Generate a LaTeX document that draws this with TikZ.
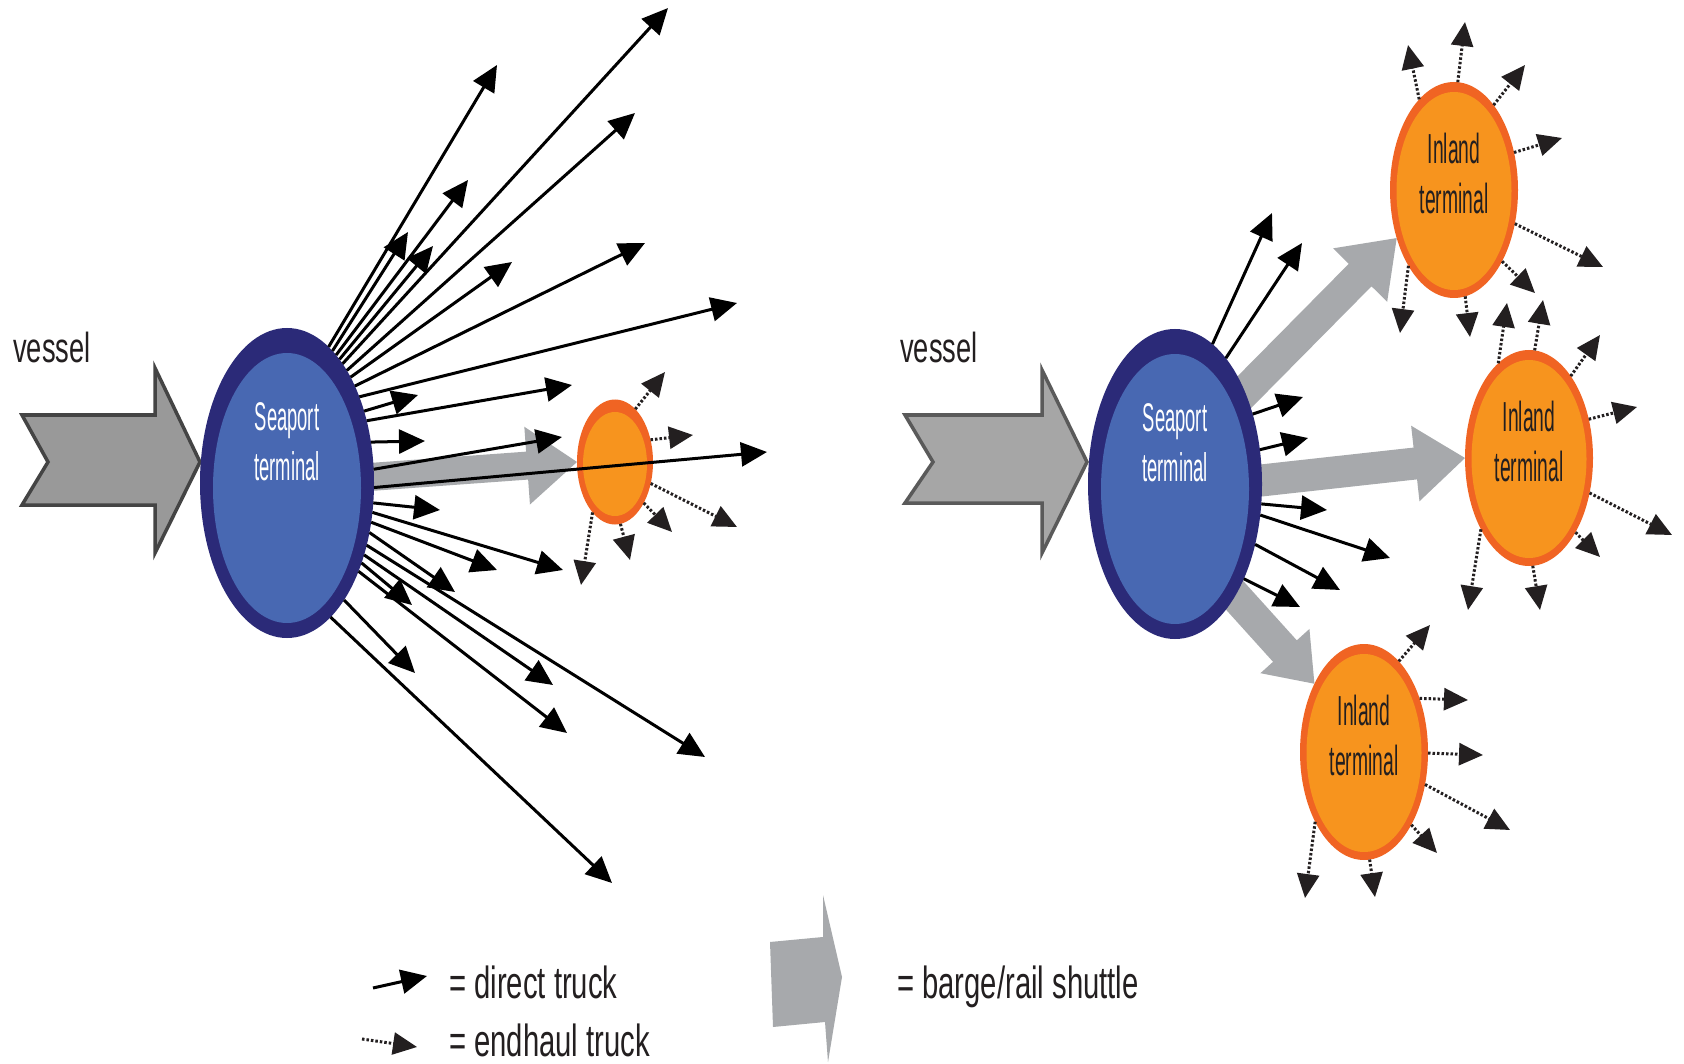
\documentclass[tikz,border=0pt]{standalone}
\usepackage{fontspec}
\setmainfont{Liberation Sans}
\newfontfamily\condA{Liberation Sans}[FakeStretch=0.65]
\newfontfamily\condB{Liberation Sans}[FakeStretch=0.46]
\usetikzlibrary{shapes.geometric,arrows.meta,calc}
\pgfdeclarelayer{bg}
\pgfsetlayers{bg,main}
\definecolor{navy}{HTML}{2B2A78}
\definecolor{seablue}{HTML}{4868B2}
\definecolor{orangeB}{HTML}{F06423}
\definecolor{orangeF}{HTML}{F7941E}
\definecolor{shuttle}{HTML}{A7A9AC}
\definecolor{txt}{HTML}{231F20}
\definecolor{vfillL}{HTML}{999999}
\definecolor{vfillR}{HTML}{A6A6A6}
\definecolor{vdrawL}{HTML}{444444}
\definecolor{vdrawR}{HTML}{5A5A5A}
\newcommand\shuttlearrow[5]{%
  \coordinate (shH) at ($(#2)!#5!(#1)$);
  \fill[shuttle] ($(#1)!#3!90:(#2)$) -- ($(shH)!#3!90:(#2)$) -- ($(shH)!#4!90:(#2)$) -- (#2)
    -- ($(shH)!#4!-90:(#2)$) -- ($(shH)!#3!-90:(#2)$) -- ($(#1)!#3!-90:(#2)$) -- cycle;}
\begin{document}
\begin{tikzpicture}[x=1pt,y=-1pt,
  seaport/.style={ellipse, fill=navy, minimum width=174pt, minimum height=310pt, inner sep=0pt, outer sep=0pt,
    path picture={\fill[seablue] ([yshift=-5pt]path picture bounding box.center) ellipse [x radius=74pt, y radius=135pt];}},
  inland/.style={ellipse, fill=orangeB, minimum width=128pt, minimum height=216pt, inner sep=0pt, outer sep=0pt,
    path picture={\fill[orangeF] ([yshift=-1pt]path picture bounding box.center) ellipse [x radius=57.5pt, y radius=99pt];}},
  hub/.style={ellipse, fill=orangeB, minimum width=76pt, minimum height=125pt, inner sep=0pt, outer sep=0pt,
    path picture={\fill[orangeF] ([yshift=-2pt]path picture bounding box.center) ellipse [x radius=32pt, y radius=52pt];}},
  seatext/.style={text=white, font=\condB\fontsize{40}{50}\selectfont, align=center, inner sep=0pt},
  inltext/.style={text=txt, font=\condB\fontsize{42}{50}\selectfont, align=center, inner sep=0pt},
  lbl/.style={text=txt, font=\condA\fontsize{45}{54}\selectfont, inner sep=0pt, anchor=base west},
  vlbl/.style={text=txt, font=\condA\fontsize{42}{50}\selectfont, inner sep=0pt, anchor=base west},
  direct/.style={line width=3pt, draw=black, -{Triangle[length=26pt,width=24pt]}},
  endhaul/.style={line width=3pt, draw=txt, dash pattern=on 2.5pt off 2pt, -{Triangle[length=24pt,width=22pt]}},
  vesselL/.style={fill=vfillL, draw=vdrawL, line width=3.5pt, line join=miter},
  vesselR/.style={fill=vfillR, draw=vdrawR, line width=3.5pt, line join=miter}
]
\useasboundingbox (0,0) rectangle (1684,1064);
\begin{pgfonlayer}{bg}
  \fill[white] (0,0) rectangle (1684,1064);
\end{pgfonlayer}

% terminals
\node[seaport] (seaL) at (287,483) {};
\node[seaport] (seaR) at (1175,484) {};
\node[hub] (hubL) at (615,462) {};
\node[inland] (inT) at (1454,190) {};
\node[inland] (inM) at (1529,458) {};
\node[inland] (inB) at (1364,752) {};

\node[seatext, yshift=41pt] (seaLt) at (seaL.center) {Seaport\\terminal};
\node[seatext, yshift=41pt] (seaRt) at (seaR.center) {Seaport\\terminal};
\node[inltext, yshift=17pt] (inTt) at (inT.center) {Inland\\terminal};
\node[inltext, yshift=17pt] (inMt) at (inM.center) {Inland\\terminal};
\node[inltext, yshift=17pt] (inBt) at (inB.center) {Inland\\terminal};

% vessels and shuttles (under the terminals)
\begin{pgfonlayer}{bg}
  \draw[vesselL] (22,415) -- (155,415) -- (155,368) -- (200,462) -- (155,553) -- (155,505) -- (22,505) -- (48,462) -- cycle;
  \draw[vesselR] (905,415) -- (1042,415) -- (1042,370) -- (1087,462) -- (1042,553) -- (1042,503) -- (905,503) -- (933,462) -- cycle;
  \shuttlearrow{seaL.center}{hubL.west}{14pt}{39pt}{50pt}
  \coordinate (s1) at ($(seaR.center)+(25,-47)$);
  \coordinate (s2) at ($(seaR.center)+(0,6)$);
  \coordinate (s3) at ($(seaR.center)+(25,73)$);
  \shuttlearrow{s1}{inT.-140}{16pt}{38pt}{52pt}
  \shuttlearrow{s2}{inM.west}{16pt}{38pt}{50pt}
  \shuttlearrow{s3}{inB.126}{16pt}{33pt}{44pt}
\end{pgfonlayer}

\node[vlbl] (vesL) at (13,363) {vessel};
\node[vlbl] (vesR) at (900,363) {vessel};

% direct trucks, left seaport
\foreach \a/\x/\y [count=\i] in {73/497/65, 71/408/232, 69/468/180, 67/433/246, 65/668/8,
   62/635/113, 59/512/262, 55/645/243, 50/737/303, 43/418/395, 38/572/385, 26/425/441,
   9/562/437, -3/767/452, -13/440/510, -19/563/570, -25/497/570, -31/455/592, -38/705/757,
   -43/553/685, -47/412/605, -51/567/733, -64/415/673, -72/612/883}
  {\coordinate (dl\i) at (\x,\y); \draw[direct] (seaL.\a) -- (dl\i);}

% direct trucks, right seaport
\foreach \a/\x/\y [count=\i] in {75/1272/213, 68/1302/243, 42/1303/397, 22/1308/438,
   -13/1327/510, -20/1390/558, -37/1340/590, -54/1300/607}
  {\coordinate (dr\i) at (\x,\y); \draw[direct] (seaR.\a) -- (dr\i);}

% endhaul trucks
\foreach \a/\x/\y [count=\i] in {69/665/372, 32/693/435, -31/737/527, -55/672/532, -85/630/560, -114/581/585}
  {\coordinate (eh\i) at (\x,\y); \draw[endhaul] (hubL.\a) -- (eh\i);}
\foreach \a/\x/\y [count=\i] in {111/1408/45, 88/1465/22, 65/1525/65, 32/1562/138, -29/1603/267,
   -56/1535/293, -84/1470/337, -121/1400/333}
  {\coordinate (et\i) at (\x,\y); \draw[endhaul] (inT.\a) -- (et\i);}
\foreach \a/\x/\y [count=\i] in {108/1507/303, 87/1543/300, 63/1600/335, 33/1637/407, -30/1672/535,
   -58/1600/557, -88/1540/610, -124/1468/610}
  {\coordinate (em\i) at (\x,\y); \draw[endhaul] (inM.\a) -- (em\i);}
\foreach \a/\x/\y [count=\i] in {69/1430/625, 44/1468/700, -1/1483/755, -28/1510/830,
   -57/1437/853, -87/1375/897, -125/1305/898}
  {\coordinate (eb\i) at (\x,\y); \draw[endhaul] (inB.\a) -- (eb\i);}

% legend
\coordinate (lgA1) at (373,988); \coordinate (lgA2) at (427,976);
\draw[direct] (lgA1) -- (lgA2);
\coordinate (lgB1) at (362,1039); \coordinate (lgB2) at (417,1047);
\draw[endhaul] (lgB1) -- (lgB2);
\fill[shuttle] (770,942) -- (823,937) -- (823,895) -- (842,977) -- (828,1062) -- (825,1022) -- (773,1027) -- cycle;
\node[lbl] (lgAt) at (449,998) {= direct truck};
\node[lbl] (lgBt) at (449,1056) {= endhaul truck};
\node[lbl] (lgCt) at (897,998) {= barge/rail shuttle};
\end{tikzpicture}
\end{document}
